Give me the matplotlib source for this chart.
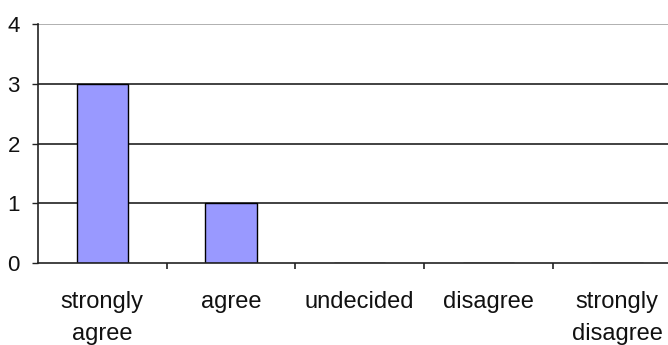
import numpy as np
import matplotlib.pyplot as plt
from matplotlib.ticker import FixedLocator

categories = ['strongly\nagree', 'agree', 'undecided', 'disagree', 'strongly\ndisagree']
counts = [3, 1, 0, 0, 0]
yticks = [0, 1, 2, 3, 4]

plt.rcParams['font.family'] = ['Liberation Sans', 'DejaVu Sans']

fig = plt.figure(figsize=(6.68, 3.45), dpi=100)
ax = fig.add_axes([38/668, 82/345, 630/668, 239/345])

x = np.arange(len(categories))
ax.bar(x, counts, width=0.4, color='#9999ff', edgecolor='black', linewidth=1.0, zorder=3)

# gridlines like excel
for v in yticks[1:]:
    col = '#aaaaaa' if v == 4 else '#333333'
    ax.axhline(v, color=col, linewidth=1.3, zorder=1)

ax.set_xlim(-0.5, -0.5 + 630/128.7)
ax.set_ylim(0, 4)

ax.set_xticks(x)
ax.set_xticklabels(categories, fontsize=17, linespacing=1.6, color='#111111')
ax.xaxis.set_minor_locator(FixedLocator(x[:-1] + 0.5))
ax.tick_params(axis='x', which='major', length=0, pad=20)
ax.tick_params(axis='x', which='minor', length=4, width=1.2, color='#222222')

ax.set_yticks(yticks)
ax.set_yticklabels([str(v) for v in yticks], fontsize=16, color='#111111')
ax.tick_params(axis='y', length=4, width=1.0, pad=9, color='#222222')

for s in ['top', 'right']:
    ax.spines[s].set_visible(False)
ax.spines['left'].set_color('#222222')
ax.spines['bottom'].set_color('#222222')
ax.spines['left'].set_linewidth(1.2)
ax.spines['bottom'].set_linewidth(1.2)
ax.spines['left'].set_zorder(4)
ax.spines['bottom'].set_zorder(4)

fig.savefig('out.png', dpi=100)
